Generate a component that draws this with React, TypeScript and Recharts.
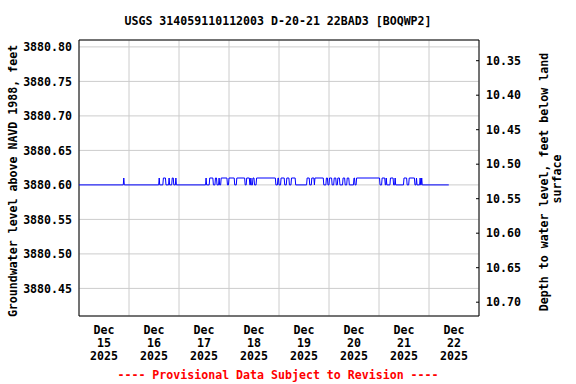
import React from 'react';
import { LineChart, Line, XAxis, YAxis, CartesianGrid, ReferenceArea } from 'recharts';

const FONT = '"DejaVu Sans Mono", "Liberation Mono", monospace';
const TITLE = 'USGS 314059110112003 D-20-21 22BAD3 [BOQWP2]';
const LEFT_LABEL = 'Groundwater level above NAVD 1988, feet';
const RIGHT_LABEL_1 = 'Depth to water level, feet below land';
const RIGHT_LABEL_2 = 'surface';
const FOOTNOTE = '---- Provisional Data Subject to Revision ----';

// hours since Dec 15 2025 00:00
const dayTicks = [12, 36, 60, 84, 108, 132, 156, 180];
const dayLabels = ['15', '16', '17', '18', '19', '20', '21', '22'];
const dayBounds = [24, 48, 72, 96, 120, 144, 168];

const levelTicks = [3880.45, 3880.5, 3880.55, 3880.6, 3880.65, 3880.7, 3880.75, 3880.8];
const depthTicks = [10.35, 10.4, 10.45, 10.5, 10.55, 10.6, 10.65, 10.7];

// readings sit at 3880.60 except during these spans (3880.61)
const baseLevel = 3880.6;
const highLevel = 3880.61;
const lastHour = 177.5;
const runStart = [21.5, 38.5, 40.5, 43.25, 44.75, 46.5, 61, 62.75, 65.5, 67.25, 68.25, 72, 75.75, 80.5, 82.5, 83.5, 85.25, 95.5, 97, 99.75, 102, 109.5, 111.75, 113.25, 118.75, 120.25, 122.5, 124.25, 126.75, 128.75, 132, 133.25, 145.5, 147.5, 149.5, 151.75, 156, 158.5, 162, 163.75, 164.5];
const runEnd = [21.5, 38.5, 41.5, 43.25, 45.25, 46.5, 61, 64.25, 66, 67.25, 71, 74.5, 79.5, 81.75, 82.5, 84, 94.25, 95.75, 98.5, 100.75, 103.75, 110.5, 112.75, 117.25, 119.25, 121.25, 123.25, 125, 127.5, 129.5, 132.25, 144.25, 146.75, 147.5, 150.75, 151.75, 157.25, 161, 162, 163.75, 164.5];

const data: { t: number; level: number }[] = [{ t: 0, level: baseLevel }];
runStart.forEach((s, i) => {
  const e = runEnd[i];
  data.push({ t: s - 0.25, level: baseLevel });
  data.push({ t: s, level: highLevel });
  if (e !== s) data.push({ t: e, level: highLevel });
  data.push({ t: e + 0.25, level: baseLevel });
});
data.push({ t: lastHour, level: baseLevel });

const tickText = { fill: '#000', fontSize: 11.6, fontFamily: FONT, fontWeight: 'bold' as const };

const DateTick = (props: any) => {
  const { x, payload } = props;
  const label = dayLabels[dayTicks.indexOf(payload.value)];
  return (
    <text x={x} y={334} textAnchor="middle" {...tickText}>
      <tspan x={x} y={334}>Dec</tspan>
      <tspan x={x} y={346.7}>{label}</tspan>
      <tspan x={x} y={359.7}>2025</tspan>
    </text>
  );
};

const DepthTick = (props: any) => {
  const { x, y, payload } = props;
  return (
    <g>
      <line x1={x - 3} x2={x} y1={y} y2={y} stroke="#000" />
      <text x={x + 7} y={y} dy="0.355em" textAnchor="start" {...tickText}>
        {payload.value.toFixed(2)}
      </text>
    </g>
  );
};

export default function App() {
  return (
    <div style={{ position: 'absolute', left: 0, top: 0, width: 576, height: 384, background: '#fff' }}>
      <LineChart width={576} height={384} data={data} margin={{ top: 40, right: 0, left: 0, bottom: 0 }}>
        <XAxis
          xAxisId="time"
          dataKey="t"
          type="number"
          domain={[0, 192]}
          allowDataOverflow
          ticks={dayTicks}
          interval={0}
          height={68}
          tickSize={0}
          tickMargin={0}
          axisLine={false}
          tickLine={false}
          tick={<DateTick />}
        />
        <XAxis xAxisId="grid" dataKey="t" type="number" domain={[0, 192]} allowDataOverflow ticks={dayBounds} hide />
        <YAxis
          yAxisId="left"
          type="number"
          domain={[3880.41, 3880.81]}
          allowDataOverflow
          ticks={levelTicks}
          interval={0}
          width={79}
          tickSize={0}
          tickMargin={7}
          axisLine={false}
          tickLine={false}
          tick={tickText}
          tickFormatter={(v: number) => v.toFixed(2)}
        />
        <YAxis
          yAxisId="right"
          orientation="right"
          type="number"
          reversed
          domain={[10.32, 10.72]}
          allowDataOverflow
          ticks={depthTicks}
          interval={0}
          width={97}
          tickSize={0}
          tickMargin={0}
          axisLine={false}
          tickLine={false}
          tick={<DepthTick />}
        />
        <CartesianGrid xAxisId="grid" yAxisId="left" stroke="#cccccc" />
        <ReferenceArea
          xAxisId="time"
          yAxisId="left"
          x1={0}
          x2={192}
          y1={3880.41}
          y2={3880.81}
          fill="none"
          stroke="#000"
          strokeWidth={1}
        />
        <Line
          xAxisId="time"
          yAxisId="left"
          type="linear"
          dataKey="level"
          stroke="#0000ff"
          strokeWidth={1}
          dot={false}
          activeDot={false}
          isAnimationActive={false}
        />
      </LineChart>
      <svg width={576} height={384} style={{ position: 'absolute', left: 0, top: 0, pointerEvents: 'none' }}>
        <text x={278} y={25} textAnchor="middle" {...tickText}>{TITLE}</text>
        <text x={13} y={181} dy="0.355em" textAnchor="middle" transform="rotate(-90 13 181)" {...tickText}>
          {LEFT_LABEL}
        </text>
        <text x={543.5} y={182} dy="0.355em" textAnchor="middle" transform="rotate(-90 543.5 182)" {...tickText}>
          {RIGHT_LABEL_1}
        </text>
        <text x={556.5} y={179} dy="0.355em" textAnchor="middle" transform="rotate(-90 556.5 179)" {...tickText}>
          {RIGHT_LABEL_2}
        </text>
        <text x={278} y={379} textAnchor="middle" {...tickText} fill="#ff0000">{FOOTNOTE}</text>
      </svg>
    </div>
  );
}
